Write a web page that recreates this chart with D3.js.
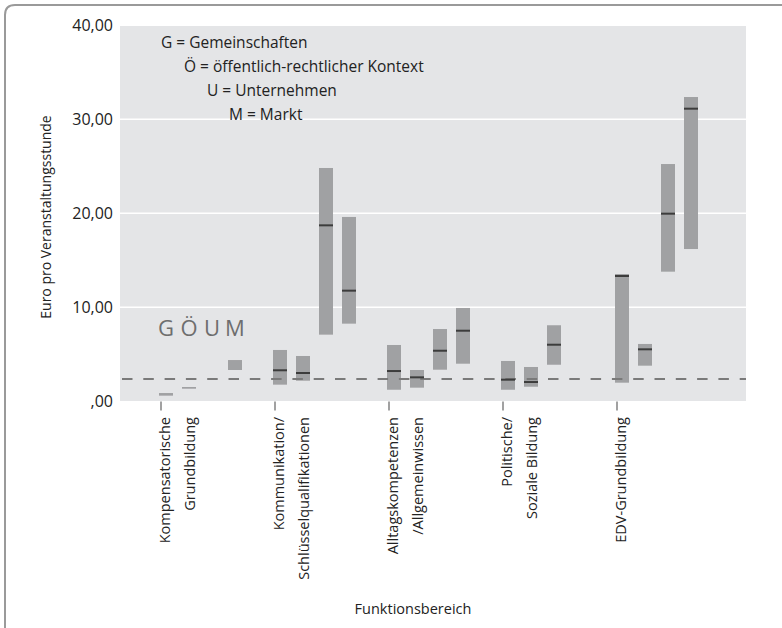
<!DOCTYPE html>
<html>
<head>
<meta charset="utf-8">
<script src="https://cdn.jsdelivr.net/npm/d3@7"></script>
<style>
  html, body { margin: 0; padding: 0; background: #fff; }
  svg { display: block; font-family: "Open Sans", sans-serif; }
</style>
</head>
<body>
<svg id="chart" width="782" height="628"></svg>
<script>
// ---- data ----
const categories = ["Kompensatorische Grundbildung", "Kommunikation/Schlüsselqualifikationen",
  "Alltagskompetenzen/Allgemeinwissen", "Politische/Soziale Bildung", "EDV-Grundbildung"];
const categoryLines = [
  ["Kompensatorische", "Grundbildung"],
  ["Kommunikation/", "Schlüsselqualifikationen"],
  ["Alltagskompetenzen", "/Allgemeinwissen"],
  ["Politische/", "Soziale Bildung"],
  ["EDV-Grundbildung"]
];
const providers = ["G", "Ö", "U", "M"];
const legendLines = ["G = Gemeinschaften", "Ö = öffentlich-rechtlicher Kontext", "U = Unternehmen", "M = Markt"];

// per provider, per category: range low / high and median (null = not present)
const lowG = [0.60, 1.77, 1.23, 1.23, 1.98];
const highG = [0.88, 5.46, 5.99, 4.29, 13.54];
const medG = [null, 3.30, 3.22, 2.30, 13.33];
const lowO = [1.34, 2.19, 1.45, 1.55, 3.79];
const highO = [1.52, 4.82, 3.33, 3.65, 6.10];
const medO = [null, 3.01, 2.55, 2.05, 5.53];
const lowU = [null, 7.09, 3.36, 3.89, 13.79];
const highU = [null, 24.82, 7.69, 8.09, 25.24];
const medU = [null, 18.72, 5.38, 6.02, 19.96];
const lowM = [3.33, 8.26, 4.00, null, 16.20];
const highM = [4.39, 19.61, 9.93, null, 32.37];
const medM = [null, 11.77, 7.51, null, 31.13];
const referenceValue = 2.37;
const yTicks = [0, 10, 20, 30, 40];

const seriesLow = { "G": lowG, "Ö": lowO, "U": lowU, "M": lowM };
const seriesHigh = { "G": highG, "Ö": highO, "U": highU, "M": highM };
const seriesMed = { "G": medG, "Ö": medO, "U": medU, "M": medM };

const rows = [];
categories.forEach((c, i) => {
  providers.forEach(p => {
    if (seriesLow[p][i] != null) {
      rows.push({ cat: c, prov: p, low: seriesLow[p][i], high: seriesHigh[p][i], med: seriesMed[p][i] });
    }
  });
});

// ---- layout ----
const svg = d3.select("#chart");
const plot = { left: 120, right: 746, top: 26, bottom: 401 };

// frame
svg.append("path")
  .attr("d", "M5,628 L5,15 Q5,5 15,5 L782,5")
  .attr("fill", "none").attr("stroke", "#9a9a9a").attr("stroke-width", 2);

const y = d3.scaleLinear().domain([0, 40]).range([401.3, 25.3]);
const x0 = d3.scaleBand().domain(categories).range([156, 726]).padding(0);
const x1 = d3.scaleBand().domain(providers).range([0, 83]).paddingInner(9 / 23).paddingOuter(0);
const tickOff = 5, barOff = 3;

svg.append("rect")
  .attr("x", plot.left).attr("y", plot.top)
  .attr("width", plot.right - plot.left).attr("height", plot.bottom - plot.top)
  .attr("fill", "#e4e5e7");

// gridlines
svg.append("g").selectAll("line")
  .data(yTicks.filter(d => d > 0 && d < 40))
  .join("line")
  .attr("x1", plot.left).attr("x2", plot.right)
  .attr("y1", d => y(d)).attr("y2", d => y(d))
  .attr("stroke", "#ffffff").attr("stroke-width", 1.5);

// Y axis
const yAxis = svg.append("g")
  .attr("transform", `translate(${plot.left},0)`)
  .call(d3.axisLeft(y).tickValues(yTicks).tickSize(0).tickPadding(7)
    .tickFormat(d => d === 0 ? ",00" : d3.format(".2f")(d).replace(".", ",")));
yAxis.select(".domain").remove();
yAxis.selectAll("text").attr("font-size", 16).attr("fill", "#222")
  .attr("font-family", "'Open Sans', sans-serif");

// X axis ticks
const xAxis = svg.append("g")
  .attr("transform", `translate(${tickOff - x0.bandwidth() / 2},${plot.bottom + 0.5})`)
  .call(d3.axisBottom(x0).tickSize(9).tickFormat(""));
xAxis.select(".domain").remove();
xAxis.selectAll("line").attr("stroke", "#8a8a8a").attr("stroke-width", 1.6);

// X labels
const lab = svg.append("g");
categories.forEach((c, i) => {
  categoryLines[i].forEach((t, j) => {
    const bx = x0(c) + tickOff + 8.5 + j * 25;
    lab.append("text")
      .attr("transform", `translate(${bx},417) rotate(-90)`)
      .attr("text-anchor", "end")
      .attr("font-size", 14.5).attr("fill", "#222")
      .text(t);
  });
});

// bars
svg.append("g").selectAll("rect")
  .data(rows)
  .join("rect")
  .attr("x", d => x0(d.cat) + barOff + x1(d.prov))
  .attr("width", x1.bandwidth())
  .attr("y", d => y(d.high))
  .attr("height", d => Math.max(1.5, y(d.low) - y(d.high)))
  .attr("fill", "#a0a1a3");

// reference dashed line
svg.append("line")
  .attr("x1", plot.left + 2).attr("x2", plot.right)
  .attr("y1", y(referenceValue)).attr("y2", y(referenceValue))
  .attr("stroke", "#7a7a7a").attr("stroke-width", 2)
  .attr("stroke-dasharray", "10.5,10.8");

// medians
svg.append("g").selectAll("line")
  .data(rows.filter(d => d.med != null))
  .join("line")
  .attr("x1", d => x0(d.cat) + barOff + x1(d.prov))
  .attr("x2", d => x0(d.cat) + barOff + x1(d.prov) + x1.bandwidth())
  .attr("y1", d => y(d.med)).attr("y2", d => y(d.med))
  .attr("stroke", "#3c3c3c").attr("stroke-width", 2);

// G Ö U M letters above first group
svg.append("g").selectAll("text")
  .data(providers)
  .join("text")
  .attr("x", p => x0(categories[0]) + barOff + x1(p) + x1.bandwidth() / 2)
  .attr("y", 336)
  .attr("text-anchor", "middle")
  .attr("font-size", 22).attr("fill", "#6e6e6e")
  .text(p => p);

// legend text
const legendX = [161, 184, 207, 229];
svg.append("g").selectAll("text")
  .data(legendLines)
  .join("text")
  .attr("x", (d, i) => legendX[i])
  .attr("y", (d, i) => 47.5 + i * 24.3)
  .attr("font-size", 15.5).attr("fill", "#222")
  .text(d => d);

// axis titles
svg.append("text")
  .attr("transform", "translate(51,217) rotate(-90)")
  .attr("text-anchor", "middle")
  .attr("font-size", 14).attr("fill", "#222")
  .text("Euro pro Veranstaltungsstunde");

svg.append("text")
  .attr("x", 413).attr("y", 614)
  .attr("text-anchor", "middle")
  .attr("font-size", 14.5).attr("fill", "#222")
  .text("Funktionsbereich");
</script>
</body>
</html>
